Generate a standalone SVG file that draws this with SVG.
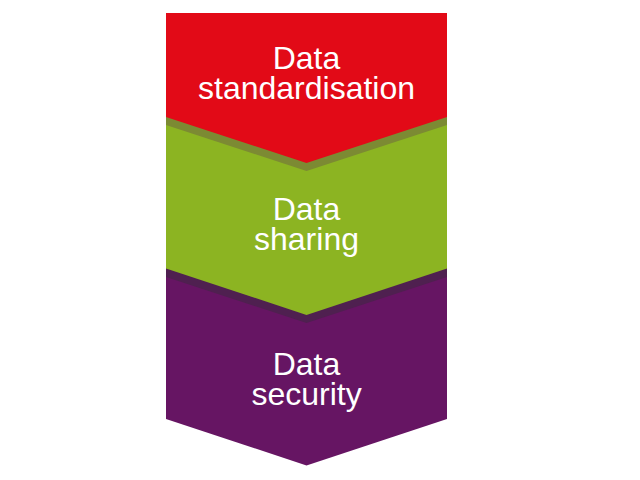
<svg xmlns="http://www.w3.org/2000/svg" width="640" height="480" viewBox="0 0 640 480">
<style>
.lbl{font-family:"Liberation Sans",Arial,sans-serif;font-size:32px;fill:#ffffff;text-anchor:middle}
</style>
<rect width="640" height="480" fill="#ffffff"/>
<g id="security">
<polygon points="166,268 447,268 447,419 306.5,465.5 166,419" fill="#661563"/>
<text class="lbl" x="306.5" y="374.5">Data<tspan x="306.5" dy="30.5">security</tspan></text>
</g>
<g id="sharing">
<polygon points="166,125 447,125 447,277 306.5,323 166,277" fill="#4F2050"/>
<polygon points="166,117 447,117 447,268.5 306.5,315 166,268.5" fill="#8CB422"/>
<text class="lbl" x="306.5" y="219.5">Data<tspan x="306.5" dy="30.5">sharing</tspan></text>
</g>
<g id="standardisation">
<polygon points="166,21 447,21 447,125 306.5,171 166,125" fill="#7C8A33"/>
<polygon points="166,13 447,13 447,117 306.5,163 166,117" fill="#E20A17"/>
<text class="lbl" x="306.5" y="68.5">Data<tspan x="306.5" dy="30.5">standardisation</tspan></text>
</g>
<g id="connectors"></g>
</svg>
